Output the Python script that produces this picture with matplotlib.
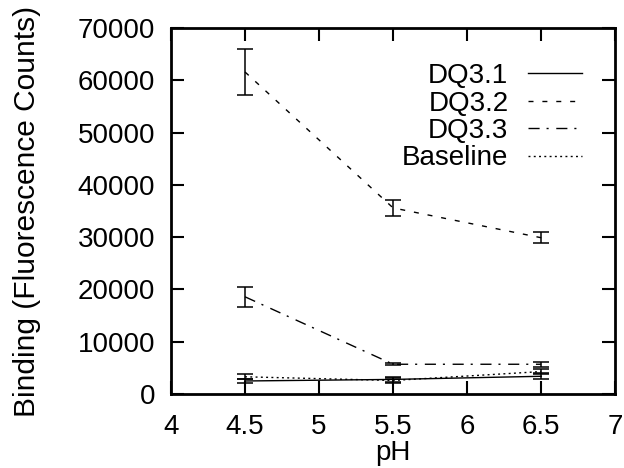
import matplotlib
matplotlib.use("Agg")
import matplotlib.pyplot as plt

ph = [4.5, 5.5, 6.5]

dq31 = [2500, 2800, 3400]
dq31_err = [400, 400, 600]
dq32 = [61600, 35600, 29900]
dq32_err = [4400, 1600, 1100]
dq33 = [18600, 5700, 5700]
dq33_err = [1900, 200, 500]
baseline = [3300, 2600, 4300]
baseline_err = [500, 400, 500]

series = [
    ("DQ3.1", dq31, dq31_err, "-"),
    ("DQ3.2", dq32, dq32_err, (0, (3.6, 6.4))),
    ("DQ3.3", dq33, dq33_err, (0, (8, 5, 1.5, 5.5))),
    ("Baseline", baseline, baseline_err, (0, (1.4, 2.4))),
]

plt.rcParams['font.family'] = ['Liberation Sans', 'DejaVu Sans']

fig = plt.figure(figsize=(6.24, 4.68), dpi=100)
ax = fig.add_axes([0.274, 0.158, 0.712, 0.782])

for name, vals, errs, ls in series:
    ax.errorbar(ph, vals, yerr=errs, color='black', ls='none',
                elinewidth=1.1, capsize=6, capthick=1.1)
    ax.plot(ph, vals, color='black', ls=ls, lw=1.0, label=name)

ax.set_xlim(4, 7)
ax.set_ylim(0, 70000)
ax.set_xticks([4, 4.5, 5, 5.5, 6, 6.5, 7])
ax.set_xticklabels(['4', '4.5', '5', '5.5', '6', '6.5', '7'])
ax.set_yticks(range(0, 70001, 10000))

for s in ax.spines.values():
    s.set_linewidth(2)
ax.tick_params(direction='in', length=9.5, width=1.5, labelsize=20,
               top=True, right=True)
ax.tick_params(axis='x', pad=14.5)
ax.tick_params(axis='y', pad=11.5)

ax.set_xlabel('pH', fontsize=20, labelpad=0)
ax.set_ylabel('Binding (Fluorescence Counts)', fontsize=21.5, labelpad=26)

ax.legend(loc='upper right', bbox_to_anchor=(0.926, 0.904), frameon=False,
          markerfirst=False, fontsize=20, handlelength=1.94, handletextpad=0.72,
          labelspacing=0.05, borderpad=0, borderaxespad=0)

fig.savefig('out.png', dpi=100)
